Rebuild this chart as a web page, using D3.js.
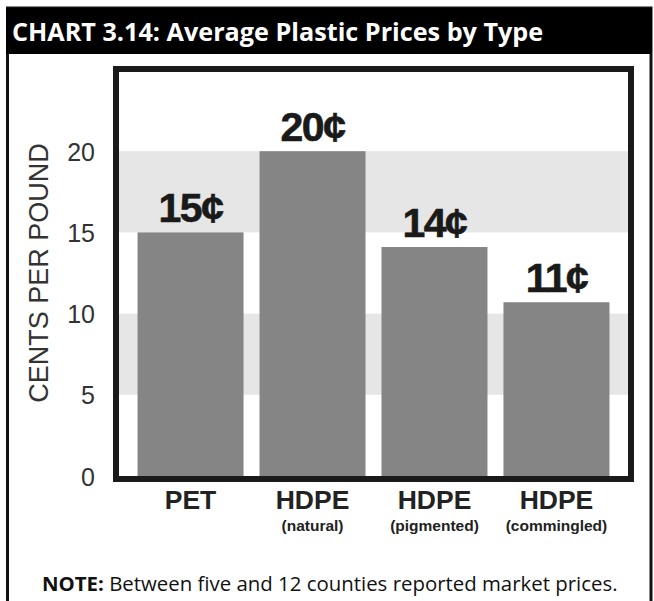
<!DOCTYPE html>
<html>
<head>
<meta charset="utf-8">
<script src="https://cdn.jsdelivr.net/npm/d3@7"></script>
<style>
  html, body { margin: 0; padding: 0; background: #fff; }
  svg { display: block; }
</style>
</head>
<body>
<script>
// ---- data ----
const categories = ["PET", "HDPE", "HDPE", "HDPE"];
const subLabels = ["", "(natural)", "(pigmented)", "(commingled)"];
const prices = [15, 20, 14.1, 10.7];
const priceLabels = ["15¢", "20¢", "14¢", "11¢"];
const yTicks = [0, 5, 10, 15, 20];
const shadedRanges = [[5, 10], [15, 20]];
const titleText = "CHART 3.14: Average Plastic Prices by Type";
const yTitle = "CENTS PER POUND";
const noteBold = "NOTE:";
const noteText = " Between five and 12 counties reported market prices.";

// ---- layout ----
const W = 654, H = 601;
const inner = { left: 119, right: 628, top: 72, bottom: 476 };

const svg = d3.select("body").append("svg").attr("width", W).attr("height", H);

// outer box and header
svg.append("rect").attr("x", 7.5).attr("y", 8).attr("width", 643.5).attr("height", 600)
  .attr("fill", "#fff").attr("stroke", "#111").attr("stroke-width", 3);
svg.append("rect").attr("x", 6).attr("y", 8).attr("width", 646).attr("height", 46).attr("fill", "#000");
svg.append("text").attr("x", 12).attr("y", 41)
  .attr("font-family", "'Open Sans', sans-serif").attr("font-weight", 700).attr("font-size", 25.2)
  .attr("fill", "#fff").text(titleText);

const idx = categories.map((d, i) => String(i));
const x = d3.scaleBand().domain(idx).range([inner.left, inner.right]).paddingInner(0.131).paddingOuter(0.152);
const y = d3.scaleLinear().domain([0, 25]).range([inner.bottom, 70]);

// shaded bands
svg.append("g").selectAll("rect").data(shadedRanges).join("rect")
  .attr("x", inner.left).attr("width", inner.right - inner.left)
  .attr("y", d => y(d[1])).attr("height", d => y(d[0]) - y(d[1]))
  .attr("fill", "#e6e6e6");

// bars
svg.append("g").selectAll("rect").data(prices).join("rect")
  .attr("x", (d, i) => x(String(i))).attr("width", x.bandwidth())
  .attr("y", d => y(d)).attr("height", d => y(0) - y(d))
  .attr("fill", "#858585");

// value labels
svg.append("g").selectAll("text").data(prices).join("text")
  .attr("x", (d, i) => x(String(i)) + x.bandwidth() / 2)
  .attr("y", d => y(d) - 10)
  .attr("text-anchor", "middle")
  .attr("font-family", "'Liberation Sans', Arial, sans-serif").attr("font-weight", 700)
  .attr("font-size", 41).attr("letter-spacing", -1.5).attr("fill", "#1a1a1a")
  .attr("stroke", "#1a1a1a").attr("stroke-width", 0.6)
  .text((d, i) => priceLabels[i]);

// frame
svg.append("rect").attr("x", 116).attr("y", 69).attr("width", 515).attr("height", 410)
  .attr("fill", "none").attr("stroke", "#1a1a1a").attr("stroke-width", 6);

// y axis
const yAxis = d3.axisLeft(y).tickValues(yTicks).tickSize(0).tickPadding(0).tickFormat(d3.format("d"));
const gy = svg.append("g").attr("transform", "translate(95,0)").call(yAxis);
gy.select(".domain").remove();
gy.selectAll("text").attr("font-family", "'Liberation Sans', Arial, sans-serif")
  .attr("font-size", 25).attr("fill", "#333").attr("dy", "0.36em");

svg.append("text")
  .attr("transform", `translate(48,${(y(0) + 70) / 2}) rotate(-90)`)
  .attr("text-anchor", "middle")
  .attr("font-family", "'Liberation Sans', Arial, sans-serif").attr("font-size", 27).attr("fill", "#333")
  .text(yTitle);

// x labels
const xAxis = d3.axisBottom(x).tickSize(0).tickPadding(0).tickFormat(d => categories[+d]);
const gx = svg.append("g").attr("transform", "translate(0,509)").call(xAxis);
gx.select(".domain").remove();
gx.selectAll("text").attr("font-family", "'Liberation Sans', Arial, sans-serif")
  .attr("font-weight", 700).attr("font-size", 26.5).attr("fill", "#222").attr("dy", 0);

svg.append("g").selectAll("text").data(subLabels).join("text")
  .attr("x", (d, i) => x(String(i)) + x.bandwidth() / 2)
  .attr("y", 531)
  .attr("text-anchor", "middle")
  .attr("font-family", "'Liberation Sans', Arial, sans-serif").attr("font-weight", 700)
  .attr("font-size", 15.5).attr("fill", "#222")
  .text(d => d);

// note
const note = svg.append("text").attr("x", 42).attr("y", 591)
  .attr("font-family", "'Open Sans', sans-serif").attr("font-size", 20.4).attr("fill", "#111");
note.append("tspan").attr("font-weight", 700).text(noteBold);
note.append("tspan").text(noteText);
</script>
</body>
</html>
